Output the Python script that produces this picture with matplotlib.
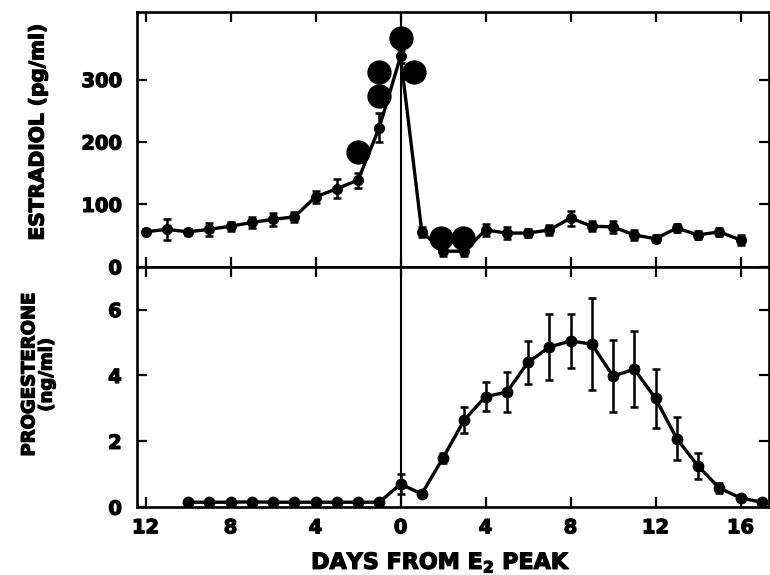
import numpy as np
import matplotlib
matplotlib.use("Agg")
import matplotlib.pyplot as plt
import matplotlib.patheffects as pe

plt.rcParams['font.family'] = 'DejaVu Sans'
plt.rcParams['font.weight'] = 'bold'

# mean estradiol (pg/ml) by day from E2 peak
e2_days = [-12, -11, -10, -9, -8, -7, -6, -5, -4, -3, -2, -1, 0, 1, 2, 3,
           4, 5, 6, 7, 8, 9, 10, 11, 12, 13, 14, 15, 16]
e2_mean = [56, 60, 56, 60, 65, 71, 76, 80, 112, 125, 139, 223, 337, 56, 25, 25,
           59, 54, 54, 59, 78, 65, 64, 51, 45, 62, 51, 56, 43]
e2_err = [4, 17, 5, 10, 7, 9, 10, 8, 10, 15, 12, 23, 10, 8, 8, 8,
          10, 10, 6, 8, 12, 8, 10, 8, 6, 6, 7, 6, 8]

# single large circles (individual values)
ind_days = [-2, -1, -1, 0, 0.65, 1.9, 2.95]
ind_vals = [184, 312, 274, 366, 312, 46, 46]

# mean progesterone (ng/ml)
p4_days = [-10, -9, -8, -7, -6, -5, -4, -3, -2, -1, 0, 1, 2, 3, 4, 5, 6, 7,
           8, 9, 10, 11, 12, 13, 14, 15, 16, 17]
p4_mean = [0.15, 0.15, 0.15, 0.16, 0.15, 0.15, 0.15, 0.15, 0.15, 0.15, 0.7, 0.4,
           1.5, 2.65, 3.36, 3.49, 4.4, 4.86, 5.05, 4.95, 3.98, 4.19, 3.3, 2.08,
           1.25, 0.58, 0.28, 0.15]
p4_err = [0.05, 0.05, 0.05, 0.05, 0.05, 0.05, 0.05, 0.05, 0.05, 0.05, 0.3, 0.08,
          0.15, 0.4, 0.45, 0.6, 0.65, 1.0, 0.83, 1.4, 1.1, 1.15, 0.9, 0.65,
          0.38, 0.15, 0.08, 0.05]

xticks = [-12, -8, -4, 0, 4, 8, 12, 16]

heavy = [pe.withStroke(linewidth=0.9, foreground='black')]

fig = plt.figure(figsize=(7.7, 5.75), dpi=100)
ax1 = fig.add_axes([0.178, 0.536, 0.821, 0.443])
ax2 = fig.add_axes([0.178, 0.118, 0.821, 0.418], sharex=ax1)

ax1.errorbar(e2_days, e2_mean, yerr=e2_err, color='black', lw=2.4, marker='o',
             ms=7, capsize=3, capthick=1.8, elinewidth=1.8, zorder=3)
ax1.plot(ind_days, ind_vals, 'o', color='black', ms=16.5, zorder=4)

ax2.errorbar(p4_days, p4_mean, yerr=p4_err, color='black', lw=2.4, marker='o',
             ms=7.5, capsize=3, capthick=1.8, elinewidth=1.8, zorder=3)

for ax in (ax1, ax2):
    ax.axvline(0, color='black', lw=1.5, zorder=2)
    for s in ax.spines.values():
        s.set_linewidth(1.9)
    ax.tick_params(direction='in', length=7, width=1.6, top=True, right=True,
                   labelsize=14, pad=8)

ax1.set_xlim(-12.4, 17.35)
ax1.set_ylim(0, 408)
ax1.set_yticks([0, 100, 200, 300])
ax1.tick_params(labelbottom=False)
ax1.tick_params(axis='y', pad=11)

ax2.set_ylim(0, 7.3)
ax2.set_yticks([0, 2, 4, 6])
ax2.tick_params(axis='y', pad=11)
ax2.set_xticks(xticks)
ax2.set_xticklabels([str(abs(t)) for t in xticks])

for ax in (ax1, ax2):
    for lab in ax.get_xticklabels() + ax.get_yticklabels():
        lab.set_path_effects(heavy)

fig.text(38 / 770, 1 - 132 / 575, 'ESTRADIOL (pg/ml)', rotation=90,
         ha='center', va='center', fontsize=14.5, fontweight='bold',
         path_effects=heavy)
fig.text(38 / 770, 1 - 375 / 575, 'PROGESTERONE\n(ng/ml)', rotation=90,
         ha='center', va='center', fontsize=13, fontweight='bold',
         linespacing=0.95, path_effects=heavy)
fig.text(441 / 770, 1 - 569 / 575, r'DAYS FROM E$_{\mathbf{2}}$ PEAK', ha='center',
         va='baseline', fontsize=16, fontweight='bold', path_effects=heavy)

fig.savefig('out.png', dpi=100)
